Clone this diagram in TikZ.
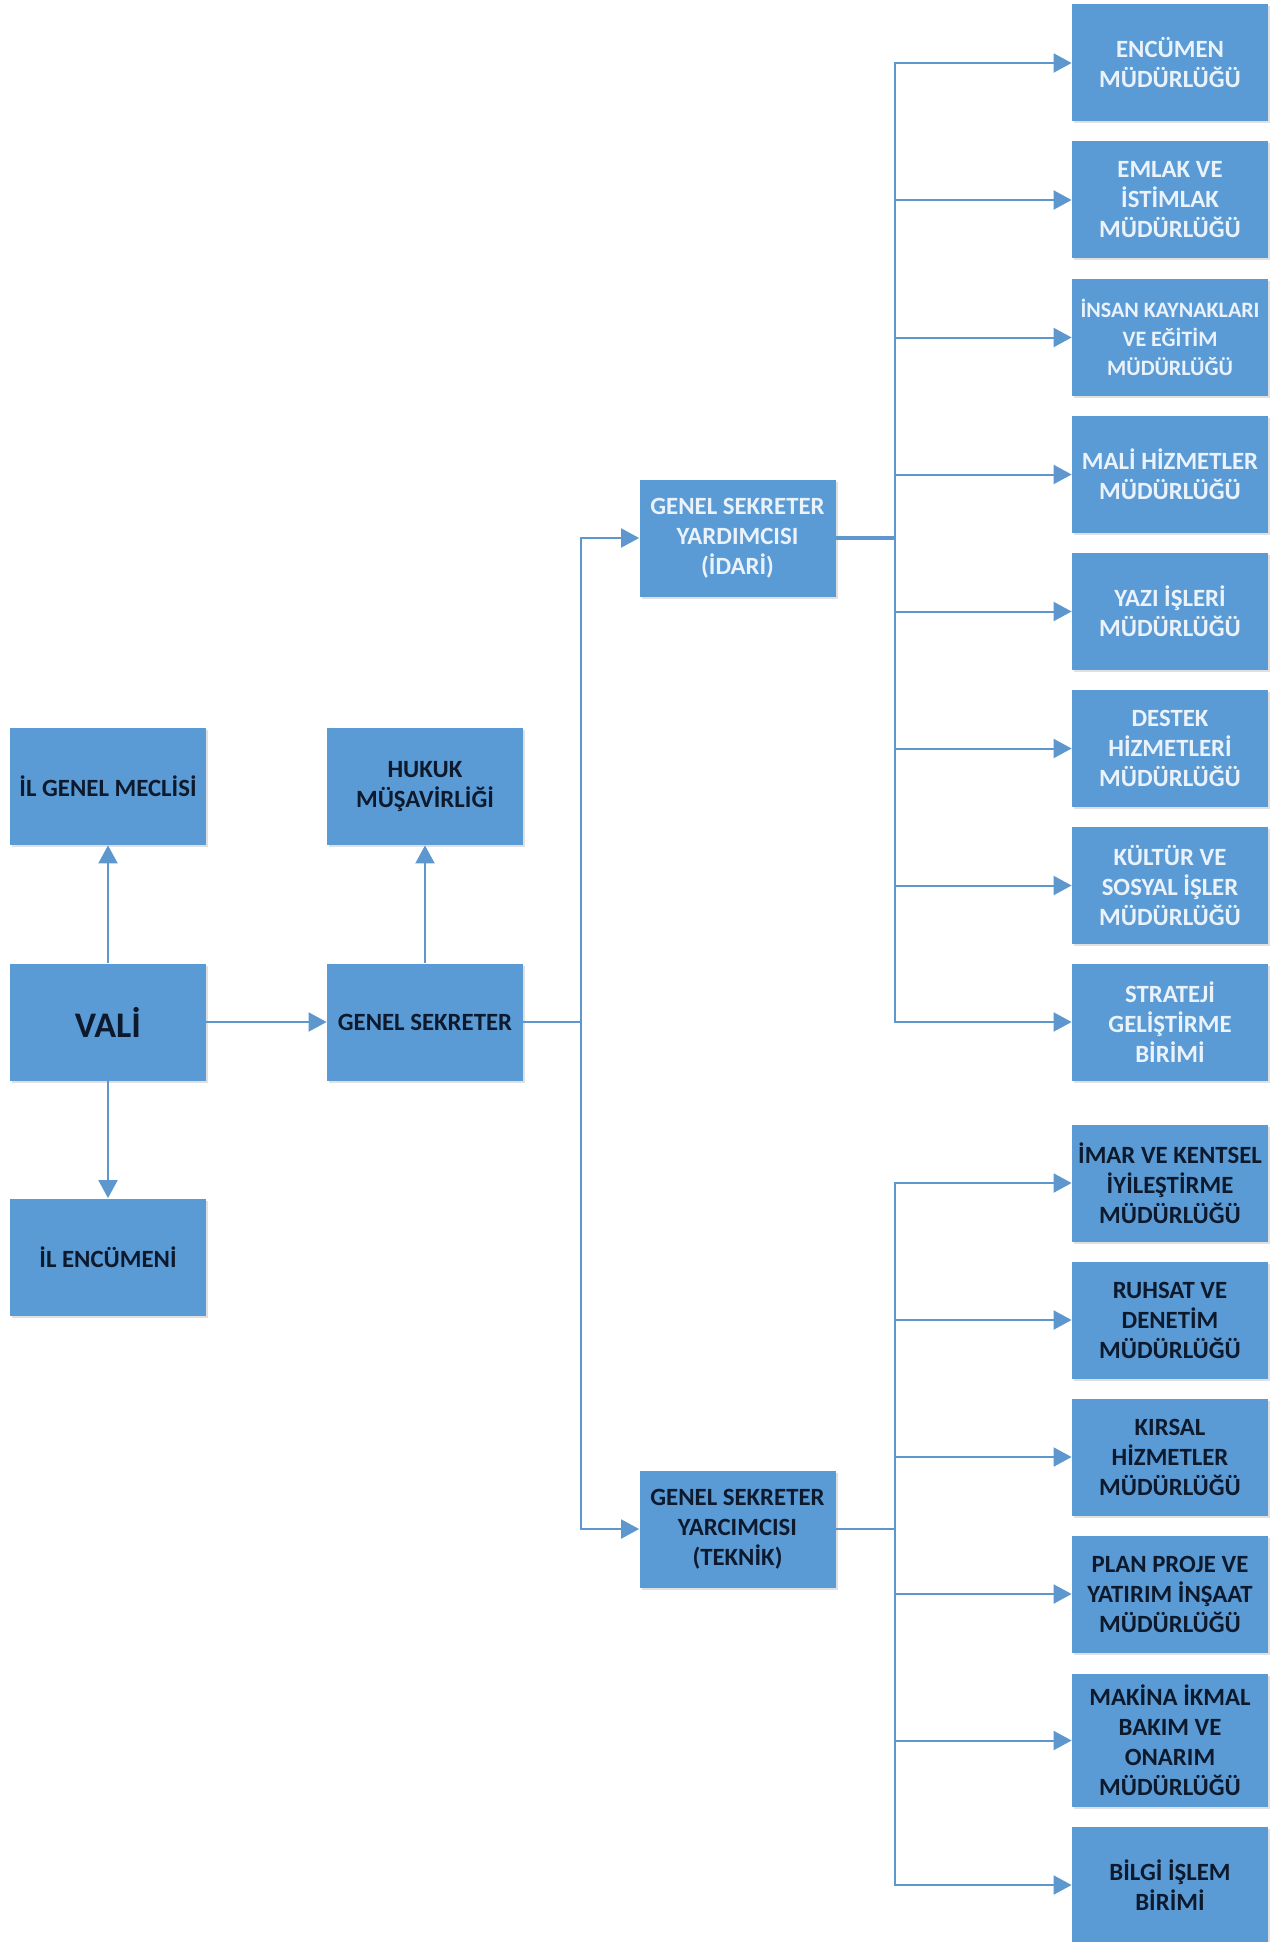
\documentclass[tikz,border=0pt]{standalone}
\usepackage{fontspec}
\setmainfont{Carlito}
\usetikzlibrary{arrows.meta,shadows}

\definecolor{boxblue}{HTML}{5B9BD5}
\definecolor{lineblue}{HTML}{5E97CE}
\definecolor{lighttext}{HTML}{EAF3FC}
\definecolor{darktext}{HTML}{0D1A2E}

\tikzset{
  box/.style={fill=boxblue, minimum width=98pt, minimum height=58.5pt, inner sep=1pt,
    align=center, font=\fontsize{12.4}{15}\selectfont\bfseries,
    drop shadow={shadow xshift=1pt, shadow yshift=-1pt, fill=black, opacity=0.12}},
  light/.style={box, text=lighttext},
  dark/.style={box, text=darktext},
  link/.style={draw=lineblue, line width=1pt, -{Triangle[length=9pt,width=9.5pt]}},
  trunk/.style={draw=lineblue, line width=1pt},
}

\begin{document}
\begin{tikzpicture}[x=0.5pt,y=-0.5pt]
    \useasboundingbox (0,0) rectangle (1279,1942);

    % Left part
    \node[dark] (meclis) at (108,786.5) {İL GENEL MECLİSİ};
    \node[dark, font=\fontsize{18}{20}\selectfont\bfseries] (vali) at (108,1022) {VALİ};
    \node[dark] (encumeni) at (108,1257) {İL ENCÜMENİ};
    \node[dark] (hukuk) at (425,786.5) {HUKUK\\MÜŞAVİRLİĞİ};
    \node[dark] (gs) at (425,1022) {GENEL SEKRETER};

    % Deputies
    \node[light] (idari) at (737.5,538) {GENEL SEKRETER\\YARDIMCISI\\(İDARİ)};
    \node[dark] (teknik) at (737.5,1529) {GENEL SEKRETER\\YARCIMCISI\\(TEKNİK)};

    % Units under the administrative deputy
    \node[light] (encumen) at (1170,63) {ENCÜMEN\\MÜDÜRLÜĞÜ};
    \node[light] (emlak) at (1170,200) {EMLAK VE\\İSTİMLAK\\MÜDÜRLÜĞÜ};
    \node[light, font=\fontsize{11}{14.5}\selectfont\bfseries] (insan) at (1170,337.5) {İNSAN KAYNAKLARI\\VE EĞİTİM\\MÜDÜRLÜĞÜ};
    \node[light] (mali) at (1170,474.5) {MALİ HİZMETLER\\MÜDÜRLÜĞÜ};
    \node[light] (yazi) at (1170,611.5) {YAZI İŞLERİ\\MÜDÜRLÜĞÜ};
    \node[light] (destek) at (1170,748.5) {DESTEK\\HİZMETLERİ\\MÜDÜRLÜĞÜ};
    \node[light] (kultur) at (1170,885.5) {KÜLTÜR VE\\SOSYAL İŞLER\\MÜDÜRLÜĞÜ};
    \node[light] (strateji) at (1170,1022) {STRATEJİ\\GELİŞTİRME\\BİRİMİ};

    % Units under the technical deputy
    \node[dark] (imar) at (1170,1183) {İMAR VE KENTSEL\\İYİLEŞTİRME\\MÜDÜRLÜĞÜ};
    \node[dark] (ruhsat) at (1170,1320) {RUHSAT VE\\DENETİM\\MÜDÜRLÜĞÜ};
    \node[dark] (kirsal) at (1170,1457) {KIRSAL\\HİZMETLER\\MÜDÜRLÜĞÜ};
    \node[dark] (plan) at (1170,1594) {PLAN PROJE VE\\YATIRIM İNŞAAT\\MÜDÜRLÜĞÜ};
    \node[dark, minimum height=66.5pt] (makina) at (1170,1740.5) {MAKİNA İKMAL\\BAKIM VE\\ONARIM\\MÜDÜRLÜĞÜ};
    \node[dark] (bilgi) at (1170,1885) {BİLGİ İŞLEM\\BİRİMİ};

    % Draw links
    \draw[link] (vali) -- (meclis);
    \draw[link] (vali) -- (encumeni);
    \draw[link] (gs) -- (hukuk);
    \draw[link] (vali) -- (gs);

    \coordinate (t1) at (580.5,1022);
    \coordinate (t2) at (894.5,538);
    \coordinate (t3) at (894.5,1529);
    \draw[trunk] (gs) -- (t1);
    \draw[link] (t1) |- (idari);
    \draw[link] (t1) |- (teknik);
    \draw[trunk, line width=1.8pt] (idari) -- (t2);
    \draw[trunk] (teknik) -- (t3);

    \foreach \u in {encumen,emlak,insan,mali,yazi,destek,kultur,strateji}
        \draw[link] (t2) |- (\u);
    \foreach \u in {imar,ruhsat,kirsal,plan,makina,bilgi}
        \draw[link] (t3) |- (\u);
\end{tikzpicture}
\end{document}
